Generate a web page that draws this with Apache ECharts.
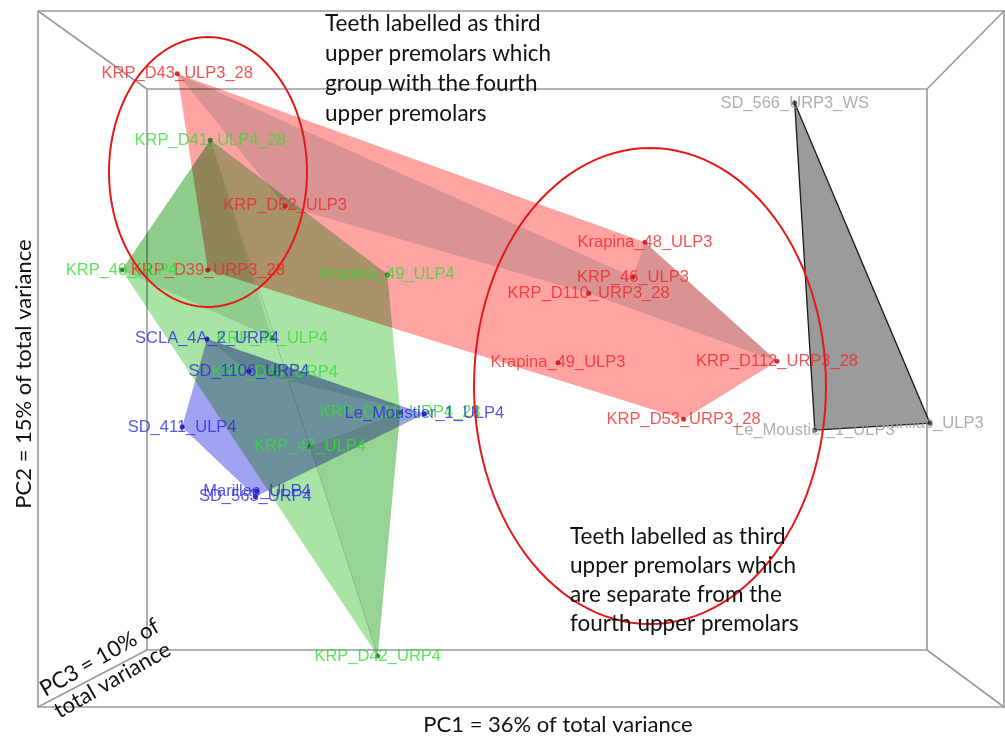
<!DOCTYPE html>
<html><head><meta charset="utf-8">
<script src="https://cdn.jsdelivr.net/npm/echarts@6/dist/echarts.min.js"></script>
<style>html,body{margin:0;padding:0;background:#fff}#c{width:1005px;height:738px}</style>
</head><body><div id="c"></div>
<script>
// ---- data: PCA scores (PC1, PC2) ----
const redNames = ['KRP_D43_ULP3_28','KRP_D52_ULP3','KRP_D39_URP3_28','Krapina_48_ULP3','KRP_46_ULP3','KRP_D110_URP3_28','Krapina_49_ULP3','KRP_D112_URP3_28','KRP_D53_URP3_28'];
const redPC1 = [-4.27,-2.93,-3.89,1.54,1.39,0.84,0.46,3.18,2.02];
const redPC2 = [3.69,1.98,1.15,1.51,1.06,0.85,-0.05,-0.03,-0.78];

const greenNames = ['KRP_D41_ULP4_28','KRP_40_ULP4','Krapina_49_ULP4','KRP_48_ULP4','KRP_D44_URP4','KRP_47_ULP4','KRP_D111_URP4_28','KRP_D42_URP4'];
const greenPC1 = [-3.86,-4.96,-1.66,-3.09,-3.06,-2.62,-1.50,-1.78];
const greenPC2 = [2.83,1.15,1.09,0.27,-0.18,-1.13,-0.69,-3.84];

const blueNames = ['SCLA_4A_2_URP4','SD_1106_URP4','SD_411_ULP4','Marillac_ULP4','SD_563_URP4','Le_Moustier_1_ULP4'];
const bluePC1 = [-3.90,-3.38,-4.21,-3.28,-3.30,-1.20];
const bluePC2 = [0.26,-0.16,-0.88,-1.71,-1.78,-0.71];

const grayNames = ['SD_566_URP3_WS','Le_Moustier_1_ULP3','Marillac_ULP3'];
const grayPC1 = [3.40,3.65,5.08];
const grayPC2 = [3.31,-0.92,-0.83];

// hull faces and visible edges (indices into each group)
const redFaces = [[0,3,7,8,2],[0,4,3,7,5,1]];
const greenFaces = [[0,2,6,7,1],[0,1,3],[5,6,7]];
const greenEdges = [[0,5],[5,7],[0,2]];
const blueFaces = [[0,5,4,2],[0,1,5]];
const grayFaces = [[0,2,1]];

const axisTitles = ['PC1 = 36% of total variance','PC2 = 15% of total variance','PC3 = 10% of\ntotal variance'];
const note1 = ['Teeth labelled as third','upper premolars which','group with the fourth','upper premolars'];
const note2 = ['Teeth labelled as third','upper premolars which','are separate from the','fourth upper premolars'];

const redFill = ['#ffa3a3','#dae6e6'];
const greenFill = ['#aae4a5','#d8e6d8','#e2ece2'];
const blueFill = ['#a2a2f2','#dde6e8'];
const mulColors = new Set([].concat(redFill, greenFill, blueFill));

const chart = echarts.init(document.getElementById('c'), null, {renderer:'canvas'});

function hull(pc1, pc2, faces, fills, stroke, z){
  return {
    type:'custom', coordinateSystem:'cartesian2d', z:z, silent:true,
    data: faces.map((f,i)=>[pc1[f[0]], pc2[f[0]], i]),
    encode:{x:0,y:1},
    renderItem:function(params, api){
      const f = faces[params.dataIndex];
      const pts = f.map(i=>api.coord([pc1[i], pc2[i]]));
      return {type:'polygon', shape:{points:pts}, style:{fill: fills[params.dataIndex], stroke: stroke || null, lineWidth: stroke?1.3:0}};
    }
  };
}
function edges(pc1, pc2, list, z){
  return {
    type:'custom', coordinateSystem:'cartesian2d', z:z, silent:true,
    data: list.map((e,i)=>[pc1[e[0]], pc2[e[0]], i]),
    encode:{x:0,y:1},
    renderItem:function(params, api){
      const e = list[params.dataIndex];
      const a = api.coord([pc1[e[0]], pc2[e[0]]]), b = api.coord([pc1[e[1]], pc2[e[1]]]);
      return {type:'line', shape:{x1:a[0],y1:a[1],x2:b[0],y2:b[1]}, style:{stroke:'rgba(110,120,110,0.35)', lineWidth:1}};
    }
  };
}
function pts(names, pc1, pc2, dot, txt, z){
  return {
    type:'scatter', z:z, symbolSize:5, itemStyle:{color:dot},
    data: names.map((n,i)=>({name:n, value:[pc1[i], pc2[i]]})),
    label:{show:true, position:'inside', formatter:'{b}', color:txt, fontFamily:'Liberation Sans', fontSize:16.5},
    emphasis:{disabled:true}
  };
}
function ellipse(cx, cy, rx, ry){
  const p=[]; for(let k=0;k<=120;k++){const a=k/120*Math.PI*2; p.push([cx+rx*Math.cos(a), cy+ry*Math.sin(a)]);}
  return {type:'polyline', z:200, shape:{points:p}, style:{stroke:'#e41a1a', lineWidth:2, fill:null}, silent:true};
}
const G='#9a9a9a';
function ln(x1,y1,x2,y2){return {type:'line', z:0, shape:{x1,y1,x2,y2}, style:{stroke:G, lineWidth:1.6}, silent:true};}
const noteFont = '22.5px Lato';
const axisFont = '22px Lato';
chart.setOption({
  animation:false,
  backgroundColor:'#fff',
  grid:{left:38, top:11, width:966, height:696},
  xAxis:{type:'value', min:-6, max:6, show:false},
  yAxis:{type:'value', min:-4.5, max:4.5, show:false},
  graphic:[
    {type:'rect', z:0, shape:{x:38,y:11,width:966,height:696}, style:{stroke:G, lineWidth:1.6, fill:null}, silent:true},
    {type:'rect', z:0, shape:{x:147,y:89,width:780,height:561}, style:{stroke:G, lineWidth:1.6, fill:null}, silent:true},
    ln(38,11,147,89), ln(1004,11,927,89), ln(38,707,147,650), ln(1004,707,927,650),
    ellipse(208,172,99,135),
    ellipse(650,386,176,238),
    {type:'text', z:200, x:325, y:9, style:{text:note1.join('\n'), font:noteFont, lineHeight:30, fill:'#111', verticalAlign:'top'}},
    {type:'text', z:200, x:570, y:522, style:{text:note2.join('\n'), font:noteFont, lineHeight:29, fill:'#111', verticalAlign:'top'}},
    {type:'text', z:200, x:558, y:725, style:{text:axisTitles[0], font:axisFont, fill:'#111', align:'center', verticalAlign:'middle'}},
    {type:'text', z:200, x:24, y:374, rotation:Math.PI/2, style:{text:axisTitles[1], font:axisFont, fill:'#111', align:'center', verticalAlign:'middle'}},
    {type:'text', z:200, x:106, y:669, rotation:0.52, style:{text:axisTitles[2], font:axisFont, lineHeight:26, fill:'#111', align:'center', verticalAlign:'middle'}}
  ],
  series:[
    hull(redPC1, redPC2, redFaces, redFill, null, 1),
    hull(greenPC1, greenPC2, greenFaces, greenFill, null, 2),
    edges(greenPC1, greenPC2, greenEdges, 2),
    hull(bluePC1, bluePC2, blueFaces, blueFill, null, 3),
    hull(grayPC1, grayPC2, grayFaces, ['#9b9b9b'], '#1a1a1a', 4),
    pts(redNames, redPC1, redPC2, '#c00000', '#f02828', 10),
    pts(greenNames, greenPC1, greenPC2, '#007a00', '#33dd33', 11),
    pts(blueNames, bluePC1, bluePC2, '#00008a', '#2a2ae0', 12),
    pts(grayNames, grayPC1, grayPC2, '#333333', '#9a9a9a', 9)
  ]
});
// translucent hull faces: paint them with multiply blending so overlaps mix like the original
(function(){
  const zr = chart.getZr();
  zr.storage.getDisplayList(true).forEach(function(el){
    if (el.style && typeof el.style.fill === 'string' && mulColors.has(el.style.fill)) {
      el.style.blend = 'multiply';
      el.markRedraw();
    }
  });
  zr.refreshImmediately();
})();
</script></body></html>
